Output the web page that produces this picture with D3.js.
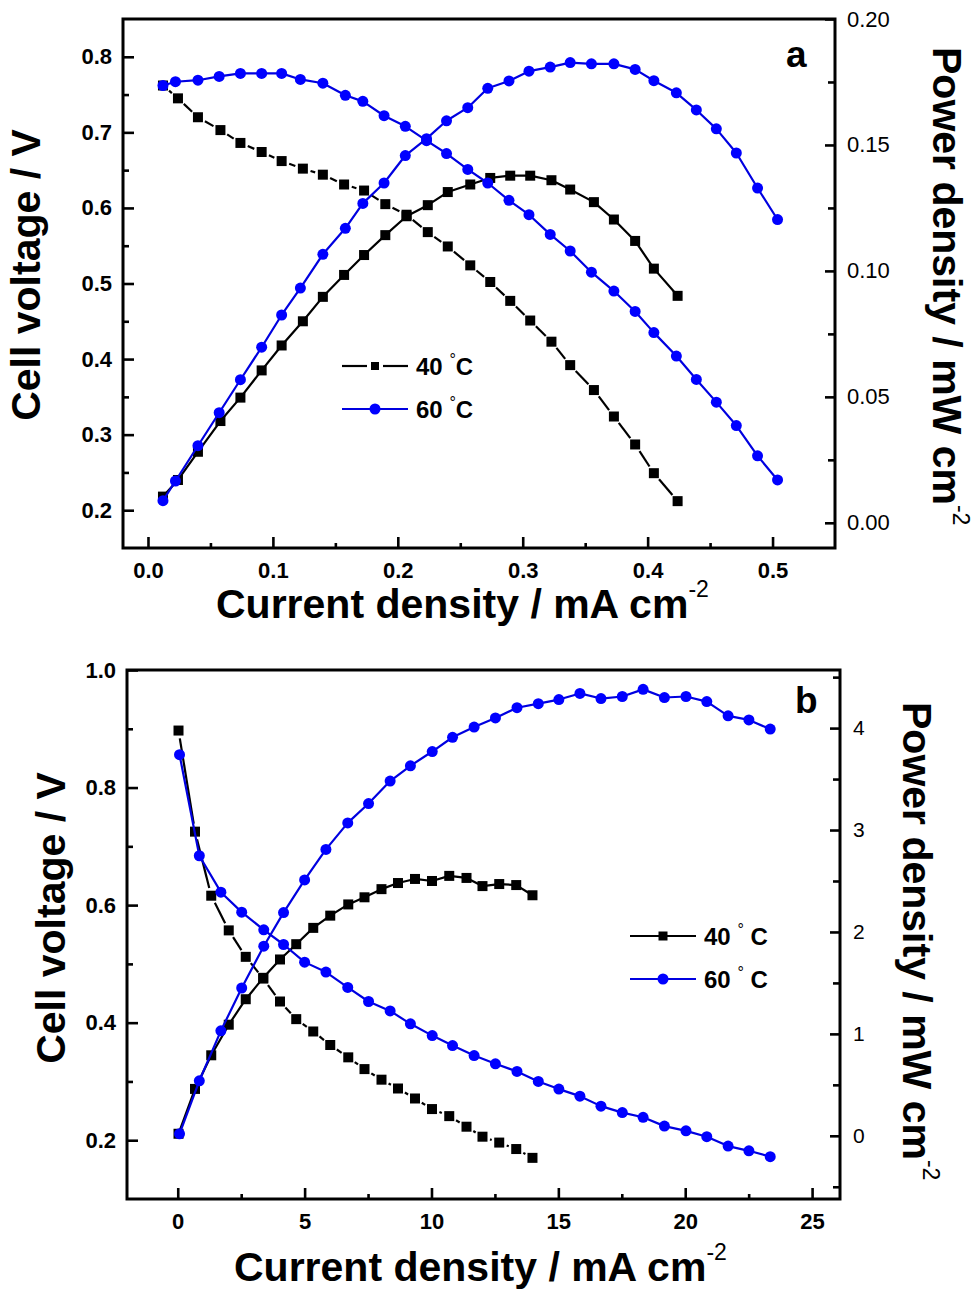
<!DOCTYPE html>
<html><head><meta charset="utf-8">
<script src="https://cdn.jsdelivr.net/npm/d3@7"></script>
<style>body{margin:0;background:#fff}</style>
</head><body>
<svg id="c" width="980" height="1293" xmlns="http://www.w3.org/2000/svg"></svg>
<script>
// ---------- Panel a data ----------
const aX40 = [0.012,0.024,0.040,0.058,0.074,0.091,0.107,0.124,0.140,0.157,0.173,0.190,0.207,0.224,0.240,0.258,0.274,0.290,0.306,0.323,0.338,0.357,0.373,0.390,0.405,0.424];
const aV40 = [0.762,0.745,0.720,0.703,0.686,0.674,0.662,0.652,0.644,0.631,0.623,0.605,0.591,0.568,0.549,0.524,0.502,0.477,0.451,0.423,0.392,0.359,0.324,0.287,0.249,0.212];
const aP40 = [0.0104,0.017,0.0282,0.0404,0.0497,0.0605,0.0704,0.080,0.0897,0.0984,0.1063,0.1142,0.1217,0.1261,0.1313,0.1343,0.1369,0.1378,0.1378,0.136,0.1323,0.1273,0.1204,0.1119,0.1009,0.0901];
const aX60 = [0.012,0.022,0.040,0.057,0.074,0.091,0.107,0.122,0.140,0.158,0.172,0.189,0.206,0.223,0.239,0.256,0.272,0.289,0.305,0.322,0.338,0.355,0.373,0.390,0.405,0.423,0.439,0.455,0.471,0.488,0.504];
const aV60 = [0.762,0.767,0.769,0.774,0.778,0.778,0.778,0.770,0.765,0.749,0.741,0.722,0.708,0.689,0.672,0.651,0.633,0.610,0.591,0.565,0.543,0.515,0.490,0.463,0.435,0.404,0.373,0.343,0.312,0.272,0.240];
const aP60 = [0.0088,0.0166,0.0306,0.0437,0.0568,0.0697,0.0825,0.0932,0.1066,0.1169,0.1268,0.1349,0.1458,0.1525,0.1596,0.1648,0.1725,0.1754,0.1793,0.1809,0.1827,0.1822,0.1822,0.180,0.1755,0.1707,0.1639,0.1564,0.1468,0.1329,0.1204];
const aXTicks = [0,0.1,0.2,0.3,0.4,0.5];
const aXMinor = [0.05,0.15,0.25,0.35,0.45];
const aYLTicks = [0.2,0.3,0.4,0.5,0.6,0.7,0.8];
const aYLMinor = [0.25,0.35,0.45,0.55,0.65,0.75];
const aYRTicks = [0,0.05,0.10,0.15,0.20];
const aYRMinor = [0.025,0.075,0.125,0.175];

// ---------- Panel b data ----------
const bX40 = [0.03,0.68,1.32,2.01,2.68,3.37,4.03,4.67,5.34,6.01,6.72,7.36,8.03,8.68,9.35,10.02,10.70,11.38,12.01,12.67,13.34,13.98];
const bV40 = [0.897,0.725,0.616,0.557,0.512,0.475,0.436,0.406,0.385,0.362,0.341,0.321,0.303,0.288,0.271,0.253,0.241,0.223,0.206,0.196,0.185,0.170];
const bP40 = [0.02,0.46,0.79,1.09,1.34,1.55,1.73,1.88,2.04,2.16,2.27,2.34,2.42,2.48,2.52,2.50,2.55,2.53,2.45,2.47,2.46,2.36];
const bX60 = [0.07,0.85,1.70,2.52,3.39,4.17,5.00,5.84,6.70,7.52,8.37,9.17,10.03,10.83,11.68,12.52,13.37,14.21,15.02,15.85,16.68,17.52,18.34,19.18,20.03,20.85,21.69,22.51,23.35];
const bV60 = [0.856,0.684,0.622,0.588,0.558,0.533,0.503,0.486,0.460,0.436,0.420,0.398,0.378,0.361,0.344,0.330,0.317,0.300,0.287,0.275,0.258,0.247,0.239,0.224,0.216,0.206,0.190,0.182,0.172];
const bP60 = [0.02,0.54,1.03,1.45,1.86,2.19,2.51,2.81,3.07,3.26,3.48,3.63,3.77,3.91,4.01,4.10,4.20,4.24,4.28,4.34,4.29,4.31,4.38,4.30,4.31,4.26,4.12,4.08,3.99];
const bXTicks = [0,5,10,15,20,25];
const bXMinor = [2.5,7.5,12.5,17.5,22.5];
const bYLTicks = [0.2,0.4,0.6,0.8,1.0];
const bYLMinor = [0.3,0.5,0.7,0.9];
const bYRTicks = [0,1,2,3,4];
const bYRMinor = [-0.5,0.5,1.5,2.5,3.5,4.5];

const legendLabels = ["40", "60"];

const FONT = '"Liberation Sans", Arial, Helvetica, sans-serif';
const BLUE = '#0000ff', BLUE_LINE = '#0000e0', BLACK = '#000';
const svg = d3.select('#c');

function styleAxis(g, fontSize, weight) {
  g.select('.domain').remove();
  g.selectAll('.tick line').attr('stroke', '#000').attr('stroke-width', 2.6);
  g.selectAll('.tick text').attr('font-family', FONT).attr('font-size', fontSize)
    .attr('font-weight', weight).attr('fill', '#000');
}

function addAxis(g, make, scale, transform, major, minor, majLen, minLen, pad, fmt, fs, fw) {
  const a = g.append('g').attr('transform', transform)
    .call(make(scale).tickValues(major).tickSizeInner(-majLen).tickSizeOuter(0).tickPadding(pad).tickFormat(fmt));
  styleAxis(a, fs, fw);
  const m = g.append('g').attr('transform', transform)
    .call(make(scale).tickValues(minor).tickSizeInner(-minLen).tickSizeOuter(0).tickFormat(''));
  styleAxis(m, fs, fw);
}

function drawSeries(g, xs, ys, x, y, o) {
  const pts = xs.map((v, i) => [x(v), y(ys[i])]);
  if (o.gapped) {
    const gap = o.size / 2 + 3;
    for (let i = 0; i < pts.length - 1; i++) {
      const [x0, y0] = pts[i], [x1, y1] = pts[i + 1];
      const dx = x1 - x0, dy = y1 - y0, L = Math.hypot(dx, dy);
      if (L <= 2 * gap + 1) continue;
      const ux = dx / L, uy = dy / L;
      g.append('line').attr('x1', x0 + ux * gap).attr('y1', y0 + uy * gap)
        .attr('x2', x1 - ux * gap).attr('y2', y1 - uy * gap)
        .attr('stroke', o.line).attr('stroke-width', 2.2);
    }
  } else {
    g.append('path').attr('d', d3.line()(pts)).attr('fill', 'none')
      .attr('stroke', o.line).attr('stroke-width', 2.2).attr('stroke-linejoin', 'round');
  }
  if (o.marker === 'square') {
    g.selectAll(null).data(pts).enter().append('rect')
      .attr('x', d => d[0] - o.size / 2).attr('y', d => d[1] - o.size / 2)
      .attr('width', o.size).attr('height', o.size).attr('fill', o.fill);
  } else {
    g.selectAll(null).data(pts).enter().append('circle')
      .attr('cx', d => d[0]).attr('cy', d => d[1]).attr('r', o.size / 2).attr('fill', o.fill);
  }
}

function titleText(g, transform, anchor, main, sup, supDy, fs) {
  const t = g.append('text').attr('transform', transform).attr('text-anchor', anchor)
    .attr('font-family', FONT).attr('font-weight', 'bold').attr('font-size', fs).attr('fill', '#000');
  t.append('tspan').text(main);
  if (sup) t.append('tspan').attr('dy', supDy).attr('font-size', 23).attr('font-weight', 'normal').text(sup);
}

function legend(g, x0, x1, y, label, color, marker, size, gapped, textX, degSpaced) {
  const cx = (x0 + x1) / 2;
  if (gapped) {
    g.append('line').attr('x1', x0).attr('x2', cx - size / 2 - 4).attr('y1', y).attr('y2', y).attr('stroke', color).attr('stroke-width', 2.2);
    g.append('line').attr('x1', cx + size / 2 + 4).attr('x2', x1).attr('y1', y).attr('y2', y).attr('stroke', color).attr('stroke-width', 2.2);
  } else {
    g.append('line').attr('x1', x0).attr('x2', x1).attr('y1', y).attr('y2', y).attr('stroke', color).attr('stroke-width', 2.2);
  }
  if (marker === 'square') g.append('rect').attr('x', cx - size / 2).attr('y', y - size / 2).attr('width', size).attr('height', size).attr('fill', color);
  else g.append('circle').attr('cx', cx).attr('cy', y).attr('r', size / 2).attr('fill', color === BLUE_LINE ? BLUE : color);
  const t = g.append('text').attr('x', textX).attr('y', y + 9).attr('font-family', FONT)
    .attr('font-weight', 'bold').attr('font-size', 24).attr('fill', '#000');
  t.append('tspan').text(label + ' ');
  t.append('tspan').attr('font-size', 16).attr('font-weight', 'normal').attr('dy', -10).text('°');
  t.append('tspan').attr('dy', 10).text(degSpaced ? ' C' : 'C');
}

function panel(c) {
  const g = svg.append('g');
  const x = d3.scaleLinear().domain(c.xd).range([c.l, c.r]);
  const yL = d3.scaleLinear().domain(c.yld).range([c.b, c.t]);
  const yR = d3.scaleLinear().domain(c.yrd).range([c.b, c.t]);

  addAxis(g, d3.axisBottom, x, `translate(0,${c.b})`, c.xt, c.xm, 11, 5, c.xpad, c.xf, 22, 'bold');
  addAxis(g, d3.axisLeft, yL, `translate(${c.l},0)`, c.ylt, c.ylm, 11, 6, 11, c.ylf, 22, 'bold');
  addAxis(g, d3.axisRight, yR, `translate(${c.r},0)`, c.yrt, c.yrm, 10, 7, c.yrpad, c.yrf, c.yrfs, 'normal');

  g.append('rect').attr('x', c.l).attr('y', c.t).attr('width', c.r - c.l).attr('height', c.b - c.t)
    .attr('fill', 'none').attr('stroke', '#000').attr('stroke-width', 3);

  const s = c.series;
  drawSeries(g, s.x40, s.v40, x, yL, {line: BLACK, fill: BLACK, marker: 'square', size: 10, gapped: true});
  drawSeries(g, s.x40, s.p40, x, yR, {line: BLACK, fill: BLACK, marker: 'square', size: 10, gapped: false});
  drawSeries(g, s.x60, s.v60, x, yL, {line: BLUE_LINE, fill: BLUE, marker: 'circle', size: 11, gapped: false});
  drawSeries(g, s.x60, s.p60, x, yR, {line: BLUE_LINE, fill: BLUE, marker: 'circle', size: 11, gapped: false});

  g.append('text').attr('x', c.lab[0]).attr('y', c.lab[1]).attr('font-family', FONT).attr('font-weight', 'bold')
    .attr('font-size', 37).attr('fill', '#000').text(c.label);

  titleText(g, `translate(${c.ylt_pos[0]},${c.ylt_pos[1]}) rotate(-90)`, 'middle', 'Cell voltage / V', null, 0, 41);
  titleText(g, `translate(${c.yrt_pos[0]},${c.yrt_pos[1]}) rotate(90)`, 'start', 'Power density / mW cm', '-2', -20, 41);
  titleText(g, `translate(${c.xt_pos[0]},${c.xt_pos[1]})`, 'start', 'Current density / mA cm', '-2', -21, 41);

  const L = c.leg;
  legend(g, L.x0, L.x1, L.y1, legendLabels[0], BLACK, 'square', L.sq, L.gapped, L.tx, L.spaced);
  legend(g, L.x0, L.x1, L.y2, legendLabels[1], BLUE_LINE, 'circle', 11, false, L.tx, L.spaced);
}

panel({
  l: 123, r: 835, t: 19, b: 548,
  xd: [-0.02, 0.55], yld: [0.15, 0.85], yrd: [-0.01, 0.2],
  xt: aXTicks, xm: aXMinor, ylt: aYLTicks, ylm: aYLMinor, yrt: aYRTicks, yrm: aYRMinor,
  xf: d3.format('.1f'), ylf: d3.format('.1f'), yrf: d3.format('.2f'),
  xpad: 14, yrpad: 12, yrfs: 22,
  series: {x40: aX40, v40: aV40, p40: aP40, x60: aX60, v60: aV60, p60: aP60},
  label: 'a', lab: [786, 67],
  ylt_pos: [40, 275], yrt_pos: [933, 47], xt_pos: [216, 618],
  leg: {x0: 342, x1: 408, y1: 366, y2: 409, sq: 8, gapped: true, tx: 416, spaced: false}
});

panel({
  l: 127, r: 840, t: 670, b: 1199,
  xd: [-2, 26.1], yld: [0.1, 1.0], yrd: [-0.62, 4.57],
  xt: bXTicks, xm: bXMinor, ylt: bYLTicks, ylm: bYLMinor, yrt: bYRTicks, yrm: bYRMinor,
  xf: d3.format('d'), ylf: d3.format('.1f'), yrf: d3.format('d'),
  xpad: 14, yrpad: 13, yrfs: 21,
  series: {x40: bX40, v40: bV40, p40: bP40, x60: bX60, v60: bV60, p60: bP60},
  label: 'b', lab: [795, 713],
  ylt_pos: [65, 918], yrt_pos: [903, 702], xt_pos: [234, 1281],
  leg: {x0: 630, x1: 696, y1: 936, y2: 979, sq: 9, gapped: false, tx: 704, spaced: true}
});
</script>
</body></html>
